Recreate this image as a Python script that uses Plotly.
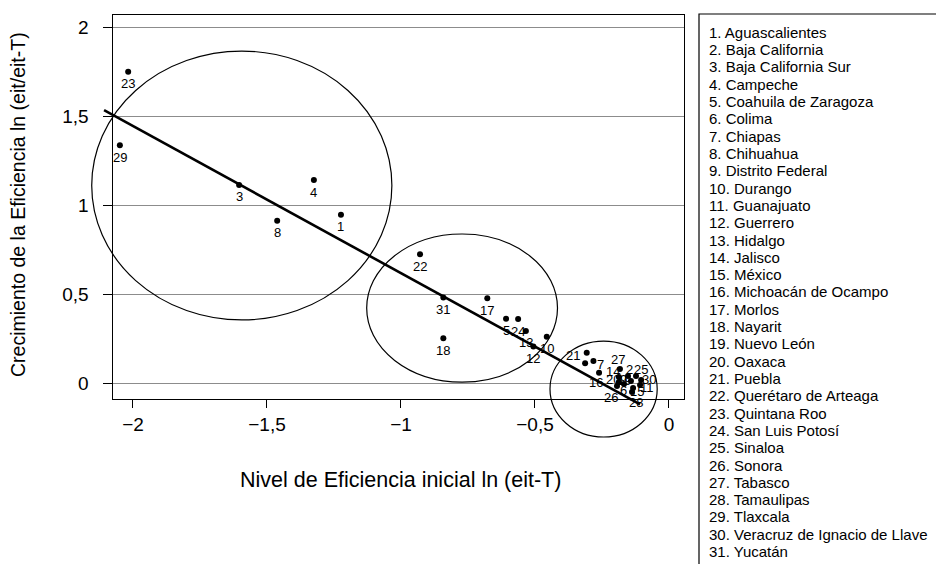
import plotly.graph_objects as go

# Entidades federativas (numbered 1..31 in the side list)
estados = [
    "Aguascalientes", "Baja California", "Baja California Sur", "Campeche",
    "Coahuila de Zaragoza", "Colima", "Chiapas", "Chihuahua", "Distrito Federal",
    "Durango", "Guanajuato", "Guerrero", "Hidalgo", "Jalisco", "México",
    "Michoacán de Ocampo", "Morlos", "Nayarit", "Nuevo León", "Oaxaca", "Puebla",
    "Querétaro de Arteaga", "Quintana Roo", "San Luis Potosí", "Sinaloa", "Sonora",
    "Tabasco", "Tamaulipas", "Tlaxcala", "Veracruz de Ignacio de Llave", "Yucatán",
]

# Initial efficiency level ln(e_{t-T}) per state
nivel_inicial = [
    -1.224, -0.153, -1.604, -1.325, -0.608, -0.168, -0.282, -1.462, -0.313, -0.456,
    -0.108, -0.506, -0.534, -0.187, -0.134, -0.261, -0.678, -0.842, -0.142, -0.187,
    -0.307, -0.929, -2.018, -0.563, -0.123, -0.194, -0.183, -0.138, -2.049, -0.104,
    -0.842,
]

# Efficiency growth ln(e_t / e_{t-T}) per state
crecimiento = [
    0.948, 0.039, 1.115, 1.143, 0.362, -0.006, 0.124, 0.914, 0.111, 0.261,
    -0.011, 0.205, 0.293, 0.034, -0.028, 0.058, 0.477, 0.252, 0.011, 0.006,
    0.171, 0.725, 1.753, 0.360, 0.039, -0.017, 0.079, -0.051, 1.338, 0.017,
    0.482,
]

# Fitted convergence line (end points)
recta_x = [-2.108, -0.108]
recta_y = [1.536, -0.120]

# Convergence clubs: centre x, centre y, half-width, half-height
club_cx = [-1.594, -0.772, -0.244]
club_cy = [1.112, 0.422, -0.034]
club_rx = [0.560, 0.356, 0.200]
club_ry = [0.757, 0.417, 0.270]

x_ticks = [-2, -1.5, -1, -0.5, 0]
y_ticks = [0, 0.5, 1, 1.5, 2]

# ---- page geometry ----
W, H = 936, 564
FONT = "Liberation Sans, Arial, Helvetica, sans-serif"
frame_l, frame_r, frame_t, frame_b = 112.6, 684.0, 15.0, 399.0
x_range = [-2.0761, 0.0560]
y_range = [-0.0901, 2.0721]

xd = [frame_l / W, frame_r / W]
yd = [1 - frame_b / H, 1 - frame_t / H]


def full_page_range(rng, dom):
    # same scale as the framed axis, stretched over the whole page
    s = (rng[1] - rng[0]) / (dom[1] - dom[0])
    return [rng[0] - dom[0] * s, rng[1] + (1 - dom[1]) * s]


x2_range = full_page_range(x_range, xd)
y2_range = full_page_range(y_range, yd)

# label offsets (px right, px down) for the crowded group; others sit below their dot
label_offset = {
    21: (-14, 3), 9: (38, 16), 7: (7, 4), 16: (-3, 10), 27: (-2, -9),
    14: (-6, -5), 2: (2, -7), 25: (5, -7), 20: (-6, -2), 19: (-7, -1),
    30: (8, 0), 11: (7, 3), 15: (4, 4), 6: (0, 6), 26: (-6, 11), 28: (4, 10),
}

fig = go.Figure()

# fitted line and club ellipses on a full-page axis pair (not clipped to the frame)
fig.add_trace(go.Scatter(
    x=recta_x, y=recta_y, mode="lines", xaxis="x2", yaxis="y2",
    line=dict(color="black", width=2.6), hoverinfo="skip", showlegend=False,
))

for cx, cy, rx, ry in zip(club_cx, club_cy, club_rx, club_ry):
    fig.add_shape(type="circle", xref="x2", yref="y2",
                  x0=cx - rx, x1=cx + rx, y0=cy - ry, y1=cy + ry,
                  line=dict(color="black", width=1.2))

fig.add_trace(go.Scatter(
    x=nivel_inicial, y=crecimiento, mode="markers",
    marker=dict(color="black", size=6),
    text=estados, hoverinfo="text+x+y", showlegend=False, cliponaxis=False,
))

annotations = []
for i, (x, y) in enumerate(zip(nivel_inicial, crecimiento)):
    n = i + 1
    dx, dy = label_offset.get(n, (0, 12))
    annotations.append(dict(
        x=x, y=y, xref="x", yref="y", text=str(n), showarrow=False,
        xshift=dx, yshift=-dy, font=dict(family=FONT, size=13, color="black"),
    ))

# state list box
fig.add_shape(type="rect", xref="paper", yref="paper",
              x0=699 / W, x1=1.05, y0=-0.05, y1=1 - 14 / H,
              line=dict(color="black", width=1.2), fillcolor="rgba(0,0,0,0)")
for i, nombre in enumerate(estados):
    yc = 32.3 + i * 17.31
    annotations.append(dict(
        x=706.5 / W, y=1 - yc / H, xref="paper", yref="paper",
        xanchor="left", yanchor="middle", showarrow=False,
        text=f"{i + 1}. {nombre}", font=dict(family=FONT, size=15, color="black"),
    ))

# axis titles
annotations.append(dict(
    x=400 / W, y=1 - 480 / H, xref="paper", yref="paper", showarrow=False,
    xanchor="center", yanchor="middle",
    text="Nivel de Eficiencia inicial ln (eit-T)",
    font=dict(family=FONT, size=21.5, color="black"),
))
annotations.append(dict(
    x=18 / W, y=1 - 205 / H, xref="paper", yref="paper", showarrow=False,
    xanchor="center", yanchor="middle", textangle=-90,
    text="Crecimiento de la Eficiencia ln (eit/eit-T)",
    font=dict(family=FONT, size=19.5, color="black"),
))

fig.update_layout(
    width=W, height=H,
    margin=dict(l=0, r=0, t=0, b=0),
    paper_bgcolor="white", plot_bgcolor="rgba(0,0,0,0)",
    separators=",.",
    font=dict(family=FONT, color="black"),
    annotations=annotations,
    xaxis=dict(
        domain=xd, range=x_range, anchor="y",
        tickvals=x_ticks, ticks="outside", ticklen=8, tickwidth=1, tickcolor="black",
        tickfont=dict(size=19, family=FONT), showgrid=False, zeroline=False,
        showline=True, mirror=True, linecolor="black", linewidth=1.2,
    ),
    yaxis=dict(
        domain=yd, range=y_range, anchor="x",
        tickvals=y_ticks, ticks="outside", ticklen=9, tickwidth=1, tickcolor="black",
        tickfont=dict(size=19, family=FONT), ticklabelstandoff=10,
        showgrid=True, gridcolor="#8c8c8c", gridwidth=1.4, zeroline=False,
        showline=True, mirror=True, linecolor="black", linewidth=1.2,
    ),
    xaxis2=dict(domain=[0, 1], range=x2_range, anchor="y2", visible=False),
    yaxis2=dict(domain=[0, 1], range=y2_range, anchor="x2", visible=False),
)

fig.write_html("out.html")
